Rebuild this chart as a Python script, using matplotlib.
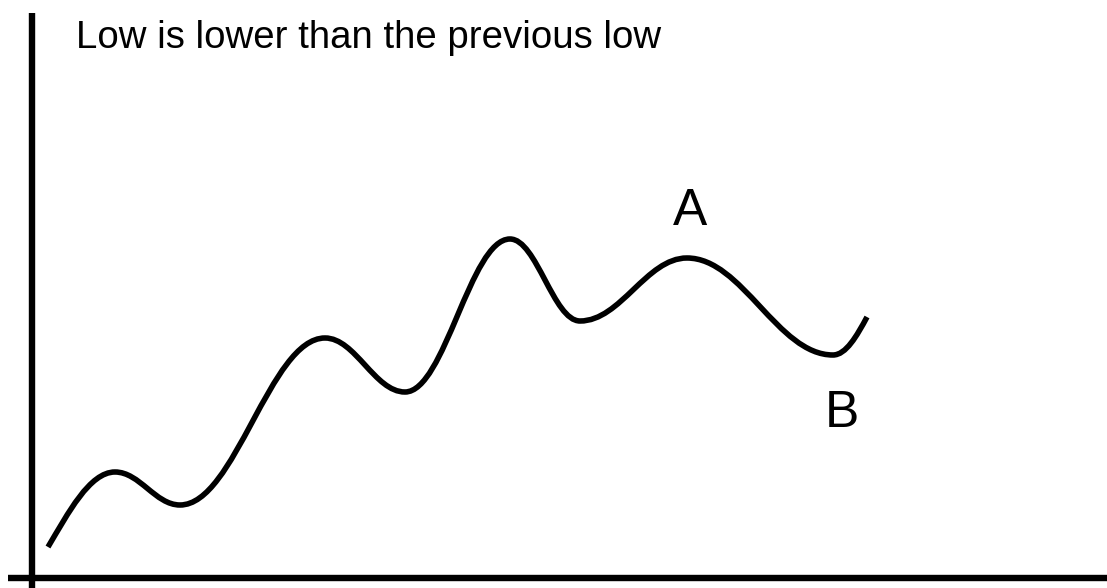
import numpy as np
import matplotlib
matplotlib.use("Agg")
import matplotlib.pyplot as plt
from matplotlib.path import Path
from matplotlib.patches import PathPatch

plt.rcParams['font.family'] = ['Liberation Sans', 'DejaVu Sans']

# swing points of the price line (start, highs and lows, end)
swing_x = [48, 115, 180, 325, 405, 510, 580, 687, 833, 867]
swing_y = [41, 116, 83, 250, 196, 349, 267, 330, 233, 271]

title = "Low is lower than the previous low"
label_a = "A"
label_b = "B"

fig = plt.figure(figsize=(11.07, 5.88), dpi=100)
ax = fig.add_axes([0, 0, 1, 1])
ax.set_xlim(0, 1107)
ax.set_ylim(0, 588)

# smooth line: cubic segments with flat tangents at the swing highs / lows
k = 0.38
verts = [(swing_x[0], swing_y[0])]
codes = [Path.MOVETO]
n = len(swing_x)
for i in range(n - 1):
    x0, y0 = swing_x[i], swing_y[i]
    x1, y1 = swing_x[i + 1], swing_y[i + 1]
    dx = x1 - x0
    if i == 0:
        c1 = (x0 + 0.3 * dx, y0 + 0.45 * (y1 - y0))
    else:
        c1 = (x0 + k * dx, y0)
    if i == n - 2:
        c2 = (x1 - 0.3 * dx, y1 - 0.5 * (y1 - y0))
    else:
        c2 = (x1 - k * dx, y1)
    verts += [c1, c2, (x1, y1)]
    codes += [Path.CURVE4] * 3

line = PathPatch(Path(verts, codes), facecolor='none', edgecolor='black',
                 linewidth=4.0, capstyle='butt', joinstyle='round')
ax.add_patch(line)

# axis lines
for s in ['top', 'right']:
    ax.spines[s].set_visible(False)
ax.spines['left'].set_position(('data', 31.5))
ax.spines['left'].set_bounds(0, 575)
ax.spines['bottom'].set_position(('data', 10))
ax.spines['bottom'].set_bounds(8, 1107)
ax.spines['left'].set_linewidth(4.6)
ax.spines['bottom'].set_linewidth(4.6)
ax.spines['left'].set_capstyle('butt')
ax.spines['bottom'].set_capstyle('butt')
ax.set_xticks([])
ax.set_yticks([])

ax.text(76, 588 - 48, title, fontsize=27.6, ha='left', va='baseline')
ax.text(swing_x[7] + 3, 588 - 225, label_a, fontsize=37, ha='center', va='baseline')
ax.text(swing_x[8] + 9, 588 - 427, label_b, fontsize=37, ha='center', va='baseline')

fig.savefig("out.png", dpi=100)
